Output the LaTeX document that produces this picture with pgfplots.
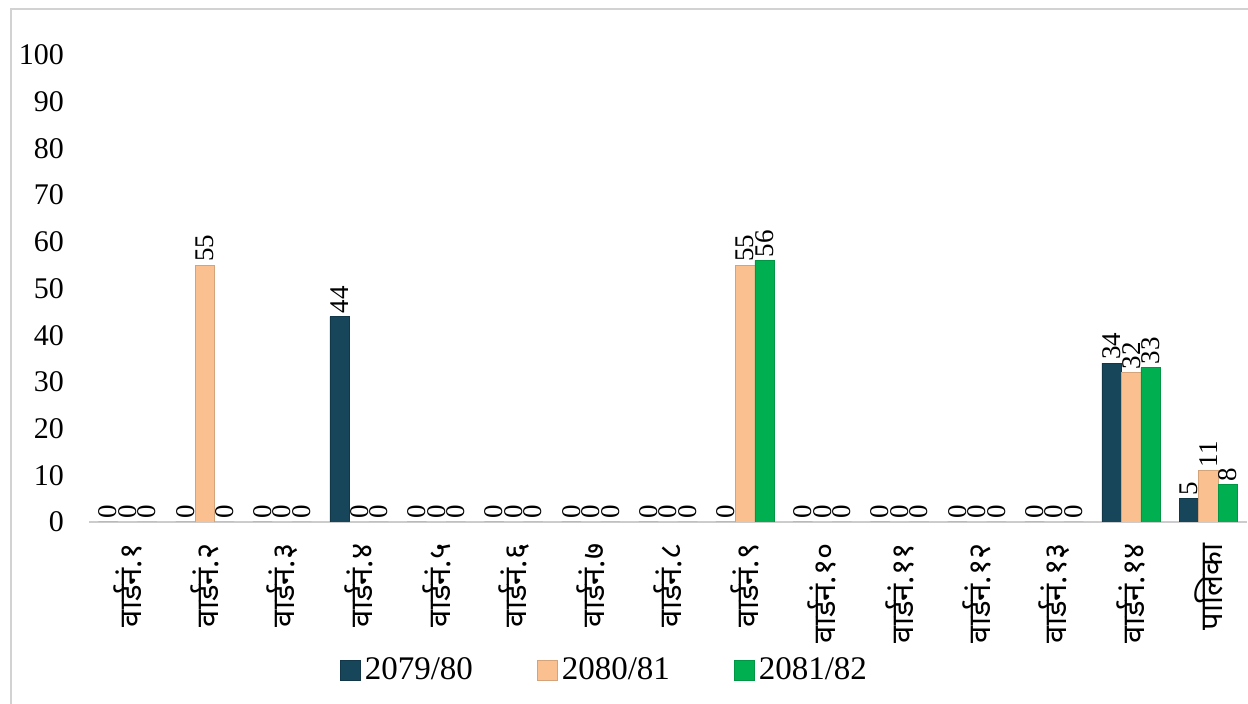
\documentclass[border=0pt]{standalone}
\usepackage{fontspec}
\setmainfont{Liberation Serif}
\newfontfamily\devfont[Script=Devanagari]{Noto Sans}
\usepackage{pgfplots}
\pgfplotsset{compat=1.18}
\definecolor{cA}{HTML}{17455A}
\definecolor{cB}{HTML}{FAC090}
\definecolor{cC}{HTML}{00B050}
\begin{document}
\begin{tikzpicture}
\useasboundingbox (0,0) rectangle (624pt,352pt);
\draw[gray!35, line width=0.8pt] (5.5pt,-20pt) -- (5.5pt,347.5pt) -- (700pt,347.5pt);
\begin{axis}[
  at={(44.5pt,91pt)}, anchor=south west,
  scale only axis, width=579pt, height=233.5pt,
  ybar=0pt, bar width=9.75pt,
  xmin=-0.5, xmax=14.5, ymin=0, ymax=100,
  ytick={0,10,...,100},
  xtick={0,...,14},
  xticklabels={वार्डनं.१,वार्डनं.२,वार्डनं.३,वार्डनं.४,वार्डनं.५,वार्डनं.६,वार्डनं.७,वार्डनं.८,वार्डनं.९,वार्डनं.१०,वार्डनं.११,वार्डनं.१२,वार्डनं.१३,वार्डनं.१४,पालिका},
  xticklabel style={font=\devfont\fontsize{15.5}{17}\selectfont, rotate=90, anchor=east, xshift=-3pt},
  yticklabel style={font=\fontsize{15}{17}\selectfont, xshift=-9pt},
  /pgf/number format/assume math mode=true,
  axis lines*=left,
  y axis line style={draw=none},
  x axis line style={gray!40, line width=1pt},
  tick style={draw=none},
  enlarge x limits=false,
  nodes near coords,
  every node near coord/.append style={font=\fontsize{13.5}{15}\selectfont, rotate=90, anchor=west, inner sep=1.5pt},
  legend style={at={(0.446,-0.317)}, anchor=center, draw=none, fill=none, legend columns=3,
    font=\fontsize{16.5}{18}\selectfont, /tikz/every even column/.append style={column sep=30pt}},
  legend image code/.code={\fill[#1] (0pt,-5pt) rectangle (10pt,5pt);},
]
\addplot[fill=cA, draw=cA!80!black] coordinates {(0,0)(1,0)(2,0)(3,44)(4,0)(5,0)(6,0)(7,0)(8,0)(9,0)(10,0)(11,0)(12,0)(13,34)(14,5)};
\addplot[fill=cB, draw=cB!85!black] coordinates {(0,0)(1,55)(2,0)(3,0)(4,0)(5,0)(6,0)(7,0)(8,55)(9,0)(10,0)(11,0)(12,0)(13,32)(14,11)};
\addplot[fill=cC, draw=cC!85!black] coordinates {(0,0)(1,0)(2,0)(3,0)(4,0)(5,0)(6,0)(7,0)(8,56)(9,0)(10,0)(11,0)(12,0)(13,33)(14,8)};
\legend{2079/80,2080/81,2081/82}
\end{axis}
\end{tikzpicture}
\end{document}
